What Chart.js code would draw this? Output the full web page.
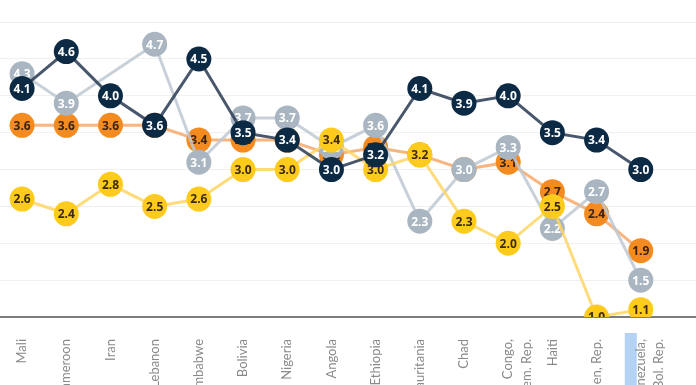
<!DOCTYPE html>
<html>
<head>
<meta charset="utf-8">
<script src="https://cdn.jsdelivr.net/npm/chart.js@4.4.1/dist/chart.umd.min.js"></script>
<style>
  html, body { margin: 0; padding: 0; background: #fff; overflow: hidden; }
  #wrap { width: 696px; height: 407px; }
</style>
</head>
<body>
<div id="wrap"><canvas id="myChart" width="696" height="407"></canvas></div>
<script>
// categories (two-line labels are arrays)
const countries = ['Mali', 'Cameroon', 'Iran', 'Lebanon', 'Zimbabwe', 'Bolivia', 'Nigeria', 'Angola',
     'Ethiopia', 'Mauritania', 'Chad', ['Congo,', 'Dem. Rep.'], 'Haiti', 'Yemen, Rep.', ['Venezuela,', 'Bol. Rep.']];

// series values
const navyValues   = [4.1, 4.6, 4.0, 3.6, 4.5, 3.5, 3.4, 3.0, 3.2, 4.1, 3.9, 4.0, 3.5, 3.4, 3.0];
const grayValues   = [4.3, 3.9, null, 4.7, 3.1, 3.7, 3.7, 3.3, 3.6, 2.3, 3.0, 3.3, 2.2, 2.7, 1.5];
const orangeValues = [3.6, 3.6, 3.6, 3.6, 3.4, 3.4, 3.4, 3.2, 3.3, 3.2, 3.0, 3.1, 2.7, 2.4, 1.9];
const yellowValues = [2.6, 2.4, 2.8, 2.5, 2.6, 3.0, 3.0, 3.4, 3.0, 3.2, 2.3, 2.0, 2.5, 1.0, 1.1];

// y grid ticks
const yTicks = [1.0, 1.5, 2.0, 2.5, 3.0, 3.5, 4.0, 4.5, 5.0];

function toPoints(values) {
     return values.map((v, i) => ({ x: i, y: v }));
}

function makeSet(values, pointColor, lineColor, textColor, order) {
     return {
          data: toPoints(values),
          borderColor: lineColor,
          backgroundColor: pointColor,
          pointBackgroundColor: pointColor,
          pointBorderColor: pointColor,
          pointRadius: 12.5,
          pointHoverRadius: 12.5,
          borderWidth: 3,
          pointBorderWidth: 0,
          spanGaps: true,
          tension: 0,
          order: order,
          textColor: textColor
     };
}

// labels inside the circles, drawn right after each dataset so overlaps stay in order
const valueLabels = {
     id: 'valueLabels',
     afterDatasetDraw(chart, args) {
          const ctx = chart.ctx;
          const area = chart.chartArea;
          const ds = chart.data.datasets[args.index];
          ctx.save();
          ctx.beginPath();
          ctx.rect(area.left, area.top, area.right - area.left, area.bottom - area.top);
          ctx.clip();
          ctx.font = '700 12px "Open Sans"';
          ctx.fillStyle = ds.textColor;
          ctx.textAlign = 'center';
          ctx.textBaseline = 'middle';
          args.meta.data.forEach((pt, i) => {
               const v = ds.data[i].y;
               if (v === null) return;
               ctx.fillText(v.toFixed(1), pt.x, pt.y + 1);
          });
          ctx.restore();
     }
};

// selection highlight behind "Venezuela,"
const highlight = {
     id: 'highlight',
     beforeDraw(chart) {
          const x = chart.scales.x.getPixelForValue(14);
          const ctx = chart.ctx;
          ctx.save();
          ctx.fillStyle = '#b4d2f3';
          ctx.fillRect(x - 16, 333, 12, 80);
          ctx.restore();
     }
};

const config = {
     type: 'line',
     data: {
          datasets: [
               makeSet(navyValues, '#0c2a44', 'rgba(40, 58, 82, 0.85)', '#ffffff', 0),
               makeSet(yellowValues, '#fdcb1c', 'rgba(254, 214, 100, 0.85)', '#3b2a0e', 1),
               makeSet(grayValues, '#a9b6c2', 'rgba(190, 200, 210, 0.85)', '#ffffff', 2),
               makeSet(orangeValues, '#f38b21', 'rgba(247, 168, 105, 0.85)', '#3b230e', 3)
          ]
     },
     options: {
          responsive: false,
          animation: false,
          layout: { padding: 0, autoPadding: false },
          plugins: {
               legend: { display: false },
               tooltip: { enabled: false }
          },
          scales: {
               x: {
                    type: 'linear',
                    min: -0.5,
                    max: 15.25,
                    afterBuildTicks: scale => {
                         scale.ticks = countries.map((_, i) => ({ value: i }));
                    },
                    afterFit: scale => {
                         scale.height = 90;
                         scale.paddingLeft = 0;
                         scale.paddingRight = 0;
                    },
                    grid: { display: false, drawTicks: false },
                    border: { display: true, color: '#7d7d7d', width: 2 },
                    ticks: {
                         autoSkip: false,
                         minRotation: 90,
                         maxRotation: 90,
                         padding: 22,
                         color: '#8a8a8a',
                         font: { family: 'Lato', size: 13, lineHeight: 1.4 },
                         callback: value => countries[value]
                    }
               },
               y: {
                    min: 1.0,
                    max: 5.3,
                    afterBuildTicks: scale => {
                         scale.ticks = yTicks.map(v => ({ value: v }));
                    },
                    afterFit: scale => {
                         scale.width = 0;
                         scale.paddingTop = 0;
                         scale.paddingBottom = 0;
                    },
                    grid: { color: '#f0f0f0', lineWidth: 1, drawTicks: false },
                    border: { display: false },
                    ticks: { display: false }
               }
          }
     },
     plugins: [highlight, valueLabels]
};

const chart = new Chart(document.getElementById('myChart').getContext('2d'), config);
</script>
</body>
</html>
